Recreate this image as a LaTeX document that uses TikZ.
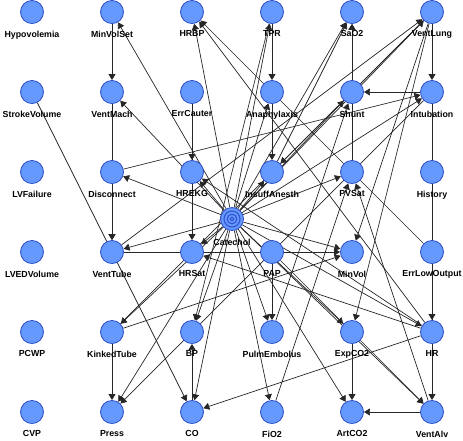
\documentclass[tikz,border=0pt]{standalone}
\usepackage{fontspec}
\setmainfont{Liberation Sans}
\usetikzlibrary{arrows.meta,backgrounds}
\definecolor{varfill}{RGB}{102,153,255}
\definecolor{varline}{RGB}{51,85,204}
\tikzset{
    var/.style={circle, draw=varline, fill=varfill, line width=0.9pt, minimum size=23pt, inner sep=0pt},
    lab/.style={font=\fontsize{8.8}{10}\selectfont\bfseries, inner sep=0pt, label distance=6.5pt},
    dep/.style={-{Triangle[length=6pt,width=7pt]}, line width=0.7pt, black!85},
}
\begin{document}
\begin{tikzpicture}[x=1pt,y=-1pt]
        \useasboundingbox (0,0) rectangle (463,440);
        % row 1
        \node[var, label={[lab]below:Hypovolemia}] (hypo) at (32,12) {};
        \node[var, label={[lab]below:MinVolSet}] (minvolset) at (112,12) {};
        \node[var, label={[lab]below:HRBP}] (hrbp) at (192,12) {};
        \node[var, label={[lab]below:TPR}] (tpr) at (272,12) {};
        \node[var, label={[lab]below:SaO2}] (sao2) at (352,12) {};
        \node[var, label={[lab]below:VentLung}] (ventlung) at (432,12) {};
        % row 2
        \node[var, label={[lab]below:StrokeVolume}] (strokevol) at (32,92) {};
        \node[var, label={[lab]below:VentMach}] (ventmach) at (112,92) {};
        \node[var, label={[lab]below:ErrCauter}] (errcauter) at (192,92) {};
        \node[var, label={[lab]below:Anaphylaxis}] (anaph) at (272,92) {};
        \node[var, label={[lab]below:Shunt}] (shunt) at (352,92) {};
        \node[var, label={[lab]below:Intubation}] (intub) at (432,92) {};
        % row 3
        \node[var, label={[lab]below:LVFailure}] (lvfail) at (32,172) {};
        \node[var, label={[lab]below:Disconnect}] (disconn) at (112,172) {};
        \node[var, label={[lab]below:HREKG}] (hrekg) at (192,172) {};
        \node[var, label={[lab]below:InsuffAnesth}] (insuff) at (272,172) {};
        \node[var, label={[lab]below:PVSat}] (pvsat) at (352,172) {};
        \node[var, label={[lab]below:History}] (history) at (432,172) {};
        % row 4
        \node[var, label={[lab]below:LVEDVolume}] (lvedvol) at (32,252) {};
        \node[var, label={[lab]below:VentTube}] (venttube) at (112,252) {};
        \node[var, label={[lab]below:HRSat}] (hrsat) at (192,252) {};
        \node[var, label={[lab]below:PAP}] (pap) at (272,252) {};
        \node[var, label={[lab]below:MinVol}] (minvol) at (352,252) {};
        \node[var, label={[lab]below:ErrLowOutput}] (errlow) at (432,252) {};
        % row 5
        \node[var, label={[lab]below:PCWP}] (pcwp) at (32,332) {};
        \node[var, label={[lab]below:KinkedTube}] (kinked) at (112,332) {};
        \node[var, label={[lab]below:BP}] (bp) at (192,332) {};
        \node[var, label={[lab]below:PulmEmbolus}] (pulmemb) at (272,332) {};
        \node[var, label={[lab]below:ExpCO2}] (expco2) at (352,332) {};
        \node[var, label={[lab]below:HR}] (hr) at (432,332) {};
        % row 6
        \node[var, label={[lab]below:CVP}] (cvp) at (32,412) {};
        \node[var, label={[lab]below:Press}] (press) at (112,412) {};
        \node[var, label={[lab]below:CO}] (co) at (192,412) {};
        \node[var, label={[lab]below:FiO2}] (fio2) at (272,412) {};
        \node[var, label={[lab]below:ArtCO2}] (artco2) at (352,412) {};
        \node[var, label={[lab]below:VentAlv}] (ventalv) at (432,412) {};
        % class node
        \node[var, label={[lab,label distance=8pt]below:Catechol}] (catechol) at (232,219) {};
        \draw[varline, line width=1.1pt] (catechol.center) circle (8);
        \draw[varline, line width=1.1pt] (catechol.center) circle (4.8);
        \draw[varline, line width=1.1pt] (catechol.center) circle (1.8);

        \begin{scope}[on background layer]
        % from catechol
        \draw[dep] (catechol) -- (minvolset);
        \draw[dep] (catechol) -- (ventmach);
        \draw[dep] (catechol) -- (disconn);
        \draw[dep] (catechol) -- (venttube);
        \draw[dep] (catechol) -- (kinked);
        \draw[dep] (catechol) -- (press);
        \draw[dep] (catechol) -- (hrbp);
        \draw[dep] (catechol) -- (tpr);
        \draw[dep] (catechol) -- (sao2);
        \draw[dep] (catechol) -- (ventlung);
        \draw[dep] (catechol) -- (anaph);
        \draw[dep] (catechol) -- (shunt);
        \draw[dep] (catechol) -- (intub);
        \draw[dep] (catechol) -- (hrekg);
        \draw[dep] (catechol) -- (insuff);
        \draw[dep] (catechol) -- (pvsat);
        \draw[dep] (catechol) -- (hrsat);
        \draw[dep] (catechol) -- (minvol);
        \draw[dep] (catechol) -- (bp);
        \draw[dep] (catechol) -- (co);
        \draw[dep] (catechol) -- (pulmemb);
        \draw[dep] (catechol) -- (fio2);
        \draw[dep] (catechol) -- (expco2);
        \draw[dep] (catechol) -- (hr);
        \draw[dep] (catechol) -- (artco2);
        \draw[dep] (catechol) -- (ventalv);
        % the rest
        \draw[dep] (minvolset) -- (ventmach);
        \draw[dep] (ventmach) -- (venttube);
        \draw[dep] (disconn) -- (venttube);
        \draw[dep] (disconn) -- (intub);
        \draw[dep] (venttube) -- (ventlung);
        \draw[dep] (venttube) -- (minvol);
        \draw[dep] (kinked) -- (ventlung);
        \draw[dep] (kinked) -- (press);
        \draw[dep] (kinked) -- (minvol);
        \draw[dep] (strokevol) -- (co);
        \draw[dep] (errcauter) -- (hrekg);
        \draw[dep] (errcauter) -- (hrsat);
        \draw[dep] (errlow) -- (hrbp);
        \draw[dep] (errlow) -- (hr);
        \draw[dep] (hr) -- (hrbp);
        \draw[dep] (hr) -- (hrekg);
        \draw[dep] (hr) -- (hrsat);
        \draw[dep] (hr) -- (co);
        \draw[dep] (co) -- (bp);
        \draw[dep] (tpr) -- (bp);
        \draw[dep] (tpr) -- (anaph);
        \draw[dep] (anaph) -- (insuff);
        \draw[dep] (ventlung) -- (insuff);
        \draw[dep] (insuff) -- (sao2);
        \draw[dep] (intub) -- (shunt);
        \draw[dep] (intub) -- (press);
        \draw[dep] (intub) -- (ventalv);
        \draw[dep] (ventlung) -- (intub);
        \draw[dep] (ventlung) -- (minvol);
        \draw[dep] (ventlung) -- (expco2);
        \draw[dep] (pvsat) -- (sao2);
        \draw[dep] (shunt) -- (sao2);
        \draw[dep] (pulmemb) -- (shunt);
        \draw[dep] (pap) -- (pulmemb);
        \draw[dep] (pap) -- (ventalv);
        \draw[dep] (fio2) -- (pvsat);
        \draw[dep] (ventalv) -- (pvsat);
        \draw[dep] (expco2) -- (artco2);
        \draw[dep] (ventalv) -- (artco2);
        \end{scope}
    \end{tikzpicture}
\end{document}
